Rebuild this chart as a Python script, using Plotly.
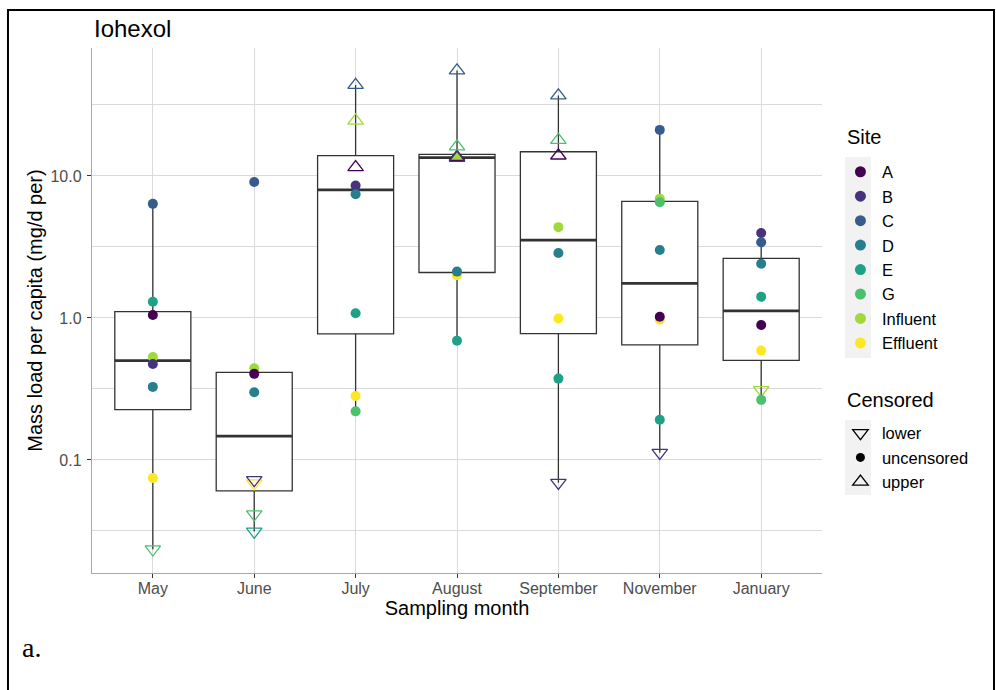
import numpy as np
import plotly.graph_objects as go

# ---- data -------------------------------------------------------------
months = ["May", "June", "July", "August", "September", "November", "January"]
sites = ["A", "B", "C", "D", "E", "G", "Influent", "Effluent"]
site_colors = ["#440154", "#46337E", "#365C8D", "#277F8E",
               "#1FA187", "#4AC16D", "#9FDA3A", "#FDE725"]

# mass load per capita (mg/d per), one value per sampling month
load_A = [1.05, 0.404, 11.5, 13.6, 13.9, 1.02, 0.893]
load_B = [0.474, 0.0723, 8.55, 13.4, 0.0692, 0.1125, 3.97]
load_C = [6.36, 9.07, 43.7, 55.2, 36.8, 21.1, 3.41]
load_D = [0.327, 0.300, 7.43, 2.12, 2.87, 3.01, 2.41]
load_E = [1.30, 0.0313, 1.08, 0.692, 0.374, 0.192, 1.41]
load_G = [0.0235, 0.0415, 0.220, 16.1, 17.9, 6.53, 0.265]
load_influent = [0.53, 0.443, 24.5, 13.5, 4.36, 6.92, 0.311]
load_effluent = [0.0746, 0.0686, 0.282, 2.0, 0.99, 0.97, 0.589]

U, LO, UP = "uncensored", "lower", "upper"
cens_A = [U, U, UP, UP, UP, U, U]
cens_B = [U, LO, U, UP, LO, LO, U]
cens_C = [U, U, UP, UP, UP, U, U]
cens_D = [U, U, U, U, U, U, U]
cens_E = [U, LO, U, U, U, U, U]
cens_G = [LO, LO, U, UP, UP, U, U]
cens_influent = [U, U, UP, UP, U, U, LO]
cens_effluent = [U, LO, U, U, U, U, U]

# points drawn with a solid triangle
solid_points = {("Influent", "August")}

censored_levels = ["lower", "uncensored", "upper"]

loads = dict(zip(sites, [load_A, load_B, load_C, load_D, load_E, load_G,
                         load_influent, load_effluent]))
cens = dict(zip(sites, [cens_A, cens_B, cens_C, cens_D, cens_E, cens_G,
                        cens_influent, cens_effluent]))
colors = dict(zip(sites, site_colors))

# ---- box statistics on the log scale (Tukey whiskers) -------------------
def box_stats(vals):
    lv = np.log10(np.asarray(vals, dtype=float))
    q1, med, q3 = np.quantile(lv, [0.25, 0.5, 0.75])
    iqr = q3 - q1
    lo = lv[lv >= q1 - 1.5 * iqr].min()
    hi = lv[lv <= q3 + 1.5 * iqr].max()
    return [10 ** v for v in (lo, q1, med, q3, hi)]

stats = [box_stats([loads[s][i] for s in sites]) for i in range(len(months))]
lof, q1s, meds, q3s, hif = [list(c) for c in zip(*stats)]

FONT = "Liberation Sans, Arial, Helvetica, sans-serif"
BOX_LINE = "#333333"

fig = go.Figure()

fig.add_trace(go.Box(
    x=months, q1=q1s, median=meds, q3=q3s, lowerfence=lof, upperfence=hif,
    width=0.75, whiskerwidth=0, boxpoints=False, fillcolor="white",
    line=dict(color=BOX_LINE, width=1.3), showlegend=False, hoverinfo="skip"))
# heavier median bar
fig.add_trace(go.Box(
    x=months, q1=meds, median=meds, q3=meds, lowerfence=meds, upperfence=meds,
    width=0.75, whiskerwidth=0, boxpoints=False, fillcolor="rgba(0,0,0,0)",
    line=dict(color=BOX_LINE, width=2.8), showlegend=False, hoverinfo="skip"))

# ---- points ------------------------------------------------------------
symbol_of = {"lower": "triangle-down-open", "uncensored": "circle",
             "upper": "triangle-up-open"}
draw_order = ["Influent", "Effluent", "A", "B", "C", "D", "E", "G"]
for s in draw_order:
    syms, sizes, lws = [], [], []
    for m, c in zip(months, cens[s]):
        if (s, m) in solid_points:
            syms.append("triangle-up"); sizes.append(13.5); lws.append(0)
        elif c == "uncensored":
            syms.append("circle"); sizes.append(10); lws.append(0)
        else:
            syms.append(symbol_of[c]); sizes.append(13.5); lws.append(1.3)
    fig.add_trace(go.Scatter(
        x=months, y=loads[s], mode="markers", showlegend=False,
        marker=dict(color=colors[s], symbol=syms, size=sizes, opacity=1,
                    line=dict(color=colors[s], width=lws)),
        name=s))

# ---- legends -----------------------------------------------------------
for s in sites:
    fig.add_trace(go.Scatter(
        x=[None], y=[None], mode="markers", name=s, legend="legend",
        marker=dict(color=colors[s], symbol="circle", size=11, opacity=1)))
for lvl in censored_levels:
    if lvl == "uncensored":
        mk = dict(color="black", symbol="circle", size=9)
    else:
        mk = dict(color="black", symbol=symbol_of[lvl], size=13.5,
                  line=dict(color="black", width=1.3))
    fig.add_trace(go.Scatter(x=[None], y=[None], mode="markers", name=lvl,
                             legend="legend2", marker=mk))

legend_common = dict(
    xanchor="left", yanchor="top", bgcolor="rgba(0,0,0,0)", borderwidth=0,
    font=dict(family=FONT, size=16.5, color="black"), tracegroupgap=0,
    itemwidth=33, itemclick=False, itemdoubleclick=False)

GRID = "#dadada"
fig.update_layout(
    width=996, height=690,
    margin=dict(l=92, r=174, t=48, b=117),
    paper_bgcolor="white", plot_bgcolor="white",
    font=dict(family=FONT, color="black"),
    boxmode="overlay",
    legend=dict(x=1.0232, y=0.7971, **legend_common),
    legend2=dict(x=1.0232, y=0.2996, **legend_common),
    xaxis=dict(
        type="category", categoryorder="array", categoryarray=months,
        range=[-0.6, len(months) - 0.4],
        showgrid=True, gridcolor=GRID, gridwidth=1.1,
        showline=True, linecolor="#a8a8a8", linewidth=1.4,
        ticks="outside", ticklen=4, tickcolor="#333333", tickwidth=1.1,
        ticklabelstandoff=-3,
        tickfont=dict(family=FONT, size=16, color="#4d4d4d"),
        title=dict(text="Sampling month", standoff=3,
                   font=dict(family=FONT, size=20, color="black")),
        zeroline=False),
    yaxis=dict(
        type="log", range=[-1.796, 1.901],
        tickvals=[0.1, 1, 10], ticktext=["0.1", "1.0", "10.0"],
        showgrid=True, gridcolor=GRID, gridwidth=1.1,
        minor=dict(tickvals=[10 ** -1.5, 10 ** -0.5, 10 ** 0.5, 10 ** 1.5],
                   showgrid=True, gridcolor=GRID, gridwidth=1, ticks=""),
        showline=True, linecolor="#a8a8a8", linewidth=1.4,
        ticks="outside", ticklen=4, tickcolor="#333333", tickwidth=1.1,
        ticklabelstandoff=2,
        tickfont=dict(family=FONT, size=16, color="#4d4d4d"),
        title=dict(text="Mass load per capita (mg/d per)", standoff=2,
                   font=dict(family=FONT, size=20, color="black")),
        zeroline=False),
)

# legend headings
for text, yc in [("Site", 0.8305), ("Censored", 0.3295)]:
    fig.add_annotation(text=text, xref="paper", yref="paper", x=1.031, y=yc,
                       xanchor="left", yanchor="middle", showarrow=False,
                       font=dict(family=FONT, size=20, color="black"))

# grey key strips behind the legend symbols
for y0, y1 in [(0.4095, 0.7924), (0.1486, 0.2914)]:
    fig.add_shape(type="rect", xref="paper", yref="paper",
                  x0=1.0315, x1=1.0671, y0=y0, y1=y1,
                  fillcolor="#f2f2f2", line=dict(width=0), layer="below")

# outer frame
fig.add_shape(type="rect", xref="paper", yref="paper",
              x0=-0.1151, x1=1.2356, y0=-0.25, y1=1.0724,
              line=dict(color="black", width=2), fillcolor="rgba(0,0,0,0)")

fig.add_annotation(text="Iohexol", xref="paper", yref="paper", x=0, y=1.038,
                   xanchor="left", yanchor="middle", showarrow=False,
                   font=dict(family=FONT, size=24, color="black"))
fig.add_annotation(text="a.", xref="paper", yref="paper", x=-0.0986, y=-0.141,
                   xanchor="left", yanchor="middle", showarrow=False,
                   font=dict(family="Liberation Serif, Times New Roman, serif",
                             size=28, color="black"))

fig.write_html("out.html")
